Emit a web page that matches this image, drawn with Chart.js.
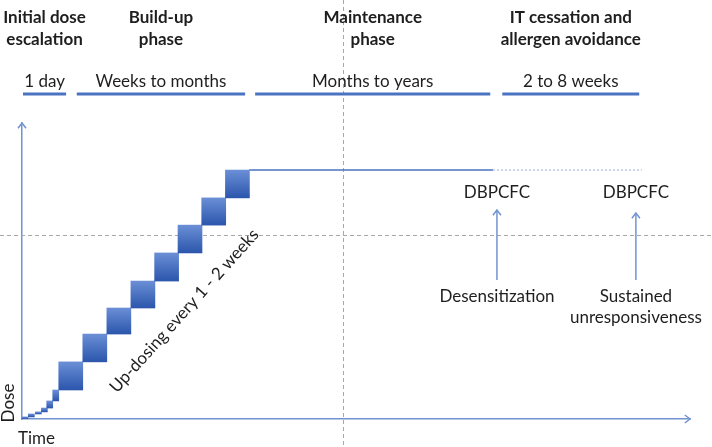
<!DOCTYPE html>
<html>
<head>
<meta charset="utf-8">
<script src="https://cdn.jsdelivr.net/npm/chart.js@4"></script>
<style>html,body{margin:0;background:#fff}</style>
</head>
<body>
<canvas id="myChart" width="712" height="447"></canvas>
<script>
// Escalera de dosis: bordes en tiempo y niveles de dosis (unidades arbitrarias)
var stepEdges = [0, 0.9, 1.9, 3.0, 3.7, 4.6, 5.5, 9.1, 12.7, 16.3, 19.9, 23.4, 26.9, 30.5, 34.0];
var doseLevels = [0, 0.7, 1.7, 2.4, 3.7, 6.1, 9.8, 19.3, 28.7, 37.5, 46.6, 56.1, 65.5, 74.7, 84.1];
var smallSteps = 6; // los primeros escalones son del dia 1

// Mantenimiento y evitacion
var maintDose = 84.1;
var maintStart = 34.0, maintEnd = 70.5, avoidEnd = 92.8;

// Fases
var phaseTitles = [['Initial dose', 'escalation'], ['Build-up', 'phase'], ['Maintenance', 'phase'], ['IT cessation and', 'allergen avoidance']];
var phaseDurations = ['1 day', 'Weeks to months', 'Months to years', '2 to 8 weeks'];
var phaseStart = [0.15, 8.2, 34.9, 71.9];
var phaseEnd = [6.6, 33.4, 70.1, 92.4];

// Provocaciones
var challengeX = [71.1, 91.9];
var challengeTop = [70.6, 69.6];
var challengeBottom = [47.0, 47.0];
var challengeLabel = 'DBPCFC';
var outcomes = [['Desensitization'], ['Sustained', 'unresponsiveness']];

var refTime = 48.05, refDose = 62.2;
var stepNote = 'Up-dosing every 1 - 2 weeks';
var notePos = {x: 24.3, y: 36.5};

function barData(from, to) {
    var out = [];
    for (var i = from; i < to; i++) {
        out.push({x: (stepEdges[i] + stepEdges[i + 1]) / 2, y: [doseLevels[i], doseLevels[i + 1]]});
    }
    return out;
}

function gradientFill(c) {
    var chart = c.chart;
    if (!chart.chartArea || !c.raw) return '#3a64b8';
    var ys = chart.scales.y;
    var top = ys.getPixelForValue(c.raw.y[1]);
    var bot = ys.getPixelForValue(c.raw.y[0]);
    if (bot - top < 1) return '#3a64b8';
    var g = chart.ctx.createLinearGradient(0, top, 0, bot);
    g.addColorStop(0, '#6b8fd6');
    g.addColorStop(1, '#2b56ac');
    return g;
}

var FONT = 'Lato, "Open Sans", sans-serif';
var TEXT = '#1e1e1e';
var BLUE = '#4a73c2';
var AXIS = '#7393d0';

function chevron(ctx, x, y, dir, s) {
    ctx.beginPath();
    if (dir === 'up') {
        ctx.moveTo(x - s, y + s * 1.3); ctx.lineTo(x, y); ctx.lineTo(x + s, y + s * 1.3);
    } else {
        ctx.moveTo(x - s * 1.3, y - s); ctx.lineTo(x, y); ctx.lineTo(x - s * 1.3, y + s);
    }
    ctx.stroke();
}

var diagram = {
    id: 'diagram',
    beforeDatasetsDraw: function(chart) {
        var ctx = chart.ctx, xs = chart.scales.x, ys = chart.scales.y;
        ctx.save();
        ctx.strokeStyle = '#a8a8a8';
        ctx.lineWidth = 1;
        ctx.setLineDash([4, 3]);
        var vx = Math.round(xs.getPixelForValue(refTime)) + 0.5;
        ctx.beginPath(); ctx.moveTo(vx, 0); ctx.lineTo(vx, chart.height); ctx.stroke();
        var hy = Math.round(ys.getPixelForValue(refDose)) + 0.5;
        ctx.beginPath(); ctx.moveTo(0, hy); ctx.lineTo(chart.width, hy); ctx.stroke();
        ctx.restore();
    },
    afterDraw: function(chart) {
        var ctx = chart.ctx, xs = chart.scales.x, ys = chart.scales.y, a = chart.chartArea;
        ctx.save();
        // flechas de los ejes
        ctx.strokeStyle = AXIS;
        ctx.lineWidth = 1.5;
        chevron(ctx, a.left, a.top, 'up', 4);
        chevron(ctx, a.right, a.bottom, 'right', 4);

        // fases
        ctx.textAlign = 'center';
        ctx.textBaseline = 'middle';
        ctx.fillStyle = TEXT;
        for (var i = 0; i < phaseTitles.length; i++) {
            var x0 = xs.getPixelForValue(phaseStart[i]);
            var x1 = xs.getPixelForValue(phaseEnd[i]);
            var cx = (x0 + x1) / 2;
            ctx.font = 'bold 17px ' + FONT;
            ctx.fillText(phaseTitles[i][0], cx, 18);
            ctx.fillText(phaseTitles[i][1], cx, 40);
            ctx.font = '17px ' + FONT;
            ctx.fillText(phaseDurations[i], cx, 82);
            ctx.strokeStyle = BLUE;
            ctx.lineWidth = 3;
            ctx.beginPath(); ctx.moveTo(x0, 94); ctx.lineTo(x1, 94); ctx.stroke();
        }

        // provocaciones
        ctx.font = '17px ' + FONT;
        var labelY = ys.getPixelForValue(Math.max.apply(null, challengeTop)) - 18;
        for (var j = 0; j < challengeX.length; j++) {
            var px = xs.getPixelForValue(challengeX[j]);
            var pt = ys.getPixelForValue(challengeTop[j]);
            var pb = ys.getPixelForValue(challengeBottom[j]);
            ctx.strokeStyle = AXIS;
            ctx.lineWidth = 1.5;
            ctx.beginPath(); ctx.moveTo(px, pb); ctx.lineTo(px, pt); ctx.stroke();
            chevron(ctx, px, pt, 'up', 4);
            ctx.fillText(challengeLabel, px, labelY);
            for (var k = 0; k < outcomes[j].length; k++) {
                ctx.fillText(outcomes[j][k], px, pb + 17 + k * 21);
            }
        }

        // nota rotada
        ctx.save();
        ctx.translate(xs.getPixelForValue(notePos.x), ys.getPixelForValue(notePos.y));
        ctx.rotate(-48 * Math.PI / 180);
        ctx.fillText(stepNote, 0, 0);
        ctx.restore();

        // titulos de ejes
        ctx.save();
        ctx.translate(9, 403);
        ctx.rotate(-Math.PI / 2);
        ctx.fillText('Dose', 0, 0);
        ctx.restore();
        ctx.textAlign = 'left';
        ctx.fillText('Time', 18, 439);
        ctx.restore();
    }
};

var ctx = document.getElementById('myChart').getContext('2d');
var chart = new Chart(ctx, {
    type: 'bar',
    data: {
        datasets: [{
            data: barData(0, smallSteps),
            backgroundColor: gradientFill,
            barThickness: 6,
            grouped: false,
            borderWidth: 0
        }, {
            data: barData(smallSteps, stepEdges.length - 1),
            backgroundColor: gradientFill,
            barThickness: 24,
            grouped: false,
            borderWidth: 0
        }, {
            type: 'line',
            data: [{x: maintStart, y: maintDose}, {x: maintEnd, y: maintDose}],
            borderColor: BLUE,
            borderWidth: 1.5,
            pointRadius: 0
        }, {
            type: 'line',
            data: [{x: maintEnd, y: maintDose}, {x: avoidEnd, y: maintDose}],
            borderColor: '#9bb2de',
            borderWidth: 1,
            borderDash: [2, 2],
            pointRadius: 0
        }]
    },
    options: {
        responsive: false,
        animation: false,
        events: [],
        layout: { padding: { left: 22, right: 22, top: 123, bottom: 28 } },
        plugins: { legend: { display: false }, tooltip: { enabled: false } },
        scales: {
            x: {
                type: 'linear', min: 0, max: 100, offset: false,
                grid: { display: false }, ticks: { display: false },
                border: { display: true, color: AXIS, width: 1.5 },
                afterFit: function(s) { s.height = 0; }
            },
            y: {
                min: 0, max: 100,
                grid: { display: false }, ticks: { display: false },
                border: { display: true, color: AXIS, width: 1.5 },
                afterFit: function(s) { s.width = 0; }
            }
        }
    },
    plugins: [diagram]
});
</script>
</body>
</html>
